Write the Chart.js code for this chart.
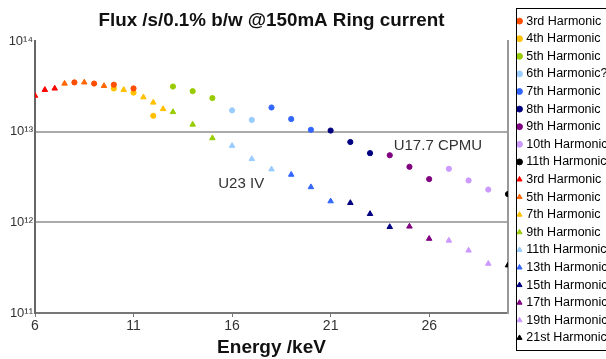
<!DOCTYPE html>
<html>
<head>
<meta charset="utf-8">
<script src="https://cdn.jsdelivr.net/npm/chart.js@4/dist/chart.umd.min.js"></script>
<style>
  html, body { margin: 0; padding: 0; background: #fff; overflow: hidden; }
</style>
</head>
<body>
<canvas id="fluxChart" width="606" height="359"></canvas>
<script>
// energy in keV, flux in ph/s/0.1% bw at 150 mA
const xTicks = [6, 11, 16, 21, 26];
const yTicks = [1e11, 1e12, 1e13, 1e14];
const yTickLabels = ['10¹¹', '10¹²', '10¹³', '10¹⁴'];

// U17.7 CPMU harmonics (circles)
const cpmu3 = [[8, 3.5e13], [9, 3.4e13], [10, 3.3e13], [11, 3.0e13]];
const cpmu4 = [[10, 3.0e13], [11, 2.7e13], [12, 1.5e13]];
const cpmu5 = [[13, 3.15e13], [14, 2.8e13], [15, 2.35e13]];
const cpmu6 = [[16, 1.72e13], [17, 1.35e13]];
const cpmu7 = [[18, 1.85e13], [19, 1.38e13], [20, 1.05e13]];
const cpmu8 = [[21, 1.03e13], [22, 7.7e12], [23, 5.8e12]];
const cpmu9 = [[24, 5.5e12], [25, 4.1e12], [26, 3.0e12]];
const cpmu10 = [[27, 3.9e12], [28, 2.9e12], [29, 2.3e12]];
const cpmu11 = [[30, 2.05e12]];

// U23 IV harmonics (triangles)
const iv3 = [[6, 2.5e13], [6.5, 2.9e13], [7, 3.0e13]];
const iv5 = [[7.5, 3.4e13], [8.5, 3.5e13], [9.5, 3.2e13]];
const iv7 = [[10.5, 2.9e13], [11.5, 2.4e13], [12, 2.1e13], [12.5, 1.78e13]];
const iv9 = [[13, 1.65e13], [14, 1.2e13], [15, 8.5e12]];
const iv11 = [[16, 7.0e12], [17, 5.0e12], [18, 3.85e12]];
const iv13 = [[19, 3.36e12], [20, 2.45e12], [21, 1.71e12]];
const iv15 = [[22, 1.64e12], [23, 1.24e12], [24, 8.9e11]];
const iv17 = [[25, 9.0e11], [26, 6.6e11]];
const iv19 = [[27, 6.3e11], [28, 4.9e11], [29, 3.5e11]];
const iv21 = [[30, 3.36e11]];

const cpmuSeries = [cpmu3, cpmu4, cpmu5, cpmu6, cpmu7, cpmu8, cpmu9, cpmu10, cpmu11];
const cpmuNames = ['3rd Harmonic', '4th Harmonic', '5th Harmonic', '6th Harmonic?', '7th Harmonic',
  '8th Harmonic', '9th Harmonic', '10th Harmonic', '11th Harmonic'];
const cpmuColors = ['#ff4d00', '#ffc000', '#99cc00', '#99ccff', '#3366ff', '#000080', '#800080', '#cc99ff', '#000000'];

const ivSeries = [iv3, iv5, iv7, iv9, iv11, iv13, iv15, iv17, iv19, iv21];
const ivNames = ['3rd Harmonic', '5th Harmonic', '7th Harmonic', '9th Harmonic', '11th Harmonic',
  '13th Harmonic', '15th Harmonic', '17th Harmonic', '19th Harmonic', '21st Harmonic'];
const ivColors = ['#ff0000', '#ff6600', '#ffc000', '#99cc00', '#99ccff', '#3366ff', '#000080', '#800080', '#cc99ff', '#000000'];

const noteTexts = ['U17.7 CPMU', 'U23 IV'];
const noteX = [24.2, 15.3];
const noteY = [7.0e12, 2.69e12];

const FONT = '"Liberation Sans", Arial, sans-serif';

function toPoints(arr) {
  return arr.map(p => ({ x: p[0], y: p[1] }));
}

const datasets = [];
cpmuSeries.forEach((s, i) => {
  datasets.push({
    label: cpmuNames[i], data: toPoints(s), yAxisID: 'y',
    pointStyle: 'circle', pointRadius: 2.6, pointBorderWidth: 1,
    backgroundColor: cpmuColors[i], borderColor: cpmuColors[i]
  });
});
ivSeries.forEach((s, i) => {
  datasets.push({
    label: ivNames[i], data: toPoints(s), yAxisID: 'y',
    pointStyle: 'triangle', pointRadius: 3.2, pointBorderWidth: 1,
    backgroundColor: ivColors[i], borderColor: ivColors[i]
  });
});

// curve labels and legend frame
const extras = {
  id: 'extras',
  afterDraw(chart) {
    const ctx = chart.ctx;
    const xs = chart.scales.x, ys = chart.scales.y;
    ctx.save();
    ctx.fillStyle = '#333';
    ctx.font = '15px ' + FONT;
    ctx.textAlign = 'left';
    ctx.textBaseline = 'middle';
    noteTexts.forEach((t, i) => {
      ctx.fillText(t, xs.getPixelForValue(noteX[i]), ys.getPixelForValue(noteY[i]));
    });
    const lg = chart.legend;
    const hb = lg.legendHitBoxes;
    if (hb && hb.length) {
      const top = hb[0].top - 6.5;
      const last = hb[hb.length - 1];
      const bottom = last.top + last.height + 6;
      ctx.strokeStyle = '#000';
      ctx.lineWidth = 1;
      ctx.strokeRect(Math.round(lg.left) + 2.5, Math.round(top) + 0.5, 200, Math.round(bottom - top));
    }
    ctx.restore();
  }
};

new Chart(document.getElementById('fluxChart'), {
  type: 'scatter',
  data: { datasets: datasets },
  plugins: [extras],
  options: {
    responsive: false,
    animation: false,
    layout: { padding: 0 },
    plugins: {
      title: {
        display: true,
        fullSize: false,
        text: 'Flux /s/0.1% b/w @150mA Ring current',
        color: '#111',
        font: { family: FONT, size: 18.8, weight: 'bold' },
        padding: { top: 10, bottom: 8.5 }
      },
      legend: {
        position: 'right',
        maxWidth: 92.1,
        labels: {
          usePointStyle: true,
          boxWidth: 1,
          boxHeight: 4.2,
          padding: 5.1,
          color: '#000',
          font: { family: FONT, size: 12.5 }
        }
      },
      tooltip: { enabled: false }
    },
    scales: {
      x: {
        type: 'linear',
        min: 6,
        max: 30,
        afterBuildTicks: s => { s.ticks = xTicks.map(v => ({ value: v })); },
        afterFit: s => { s.height = 46; },
        ticks: { color: '#333', font: { family: FONT, size: 14 }, padding: 1, maxRotation: 0, autoSkip: false },
        grid: { drawOnChartArea: false, drawTicks: true, tickLength: 4, color: '#777', lineWidth: 1 },
        border: { color: '#777', width: 2 },
        title: {
          display: true, text: 'Energy /keV', color: '#111',
          font: { family: FONT, size: 19, weight: 'bold' },
          padding: { top: 0, bottom: 0 }
        }
      },
      y: {
        type: 'logarithmic',
        min: 1e11,
        max: 1e14,
        afterBuildTicks: s => { s.ticks = yTicks.map(v => ({ value: v })); },
        afterFit: s => { s.width = 35; },
        ticks: {
          color: '#333', font: { family: FONT, size: 13 }, padding: 2,
          callback: (v, i) => yTickLabels[i]
        },
        grid: {
          color: c => (c.tick && c.tick.value === 1e14 ? 'rgba(0,0,0,0)' : '#aaa'),
          lineWidth: 2,
          drawTicks: false
        },
        border: { color: '#666', width: 2 }
      },
      y2: {
        type: 'linear',
        position: 'right',
        afterFit: s => { s.width = 5.9; },
        ticks: { display: false },
        grid: { display: false, drawTicks: false },
        border: { color: '#999', width: 2 }
      }
    }
  }
});
</script>
</body>
</html>
